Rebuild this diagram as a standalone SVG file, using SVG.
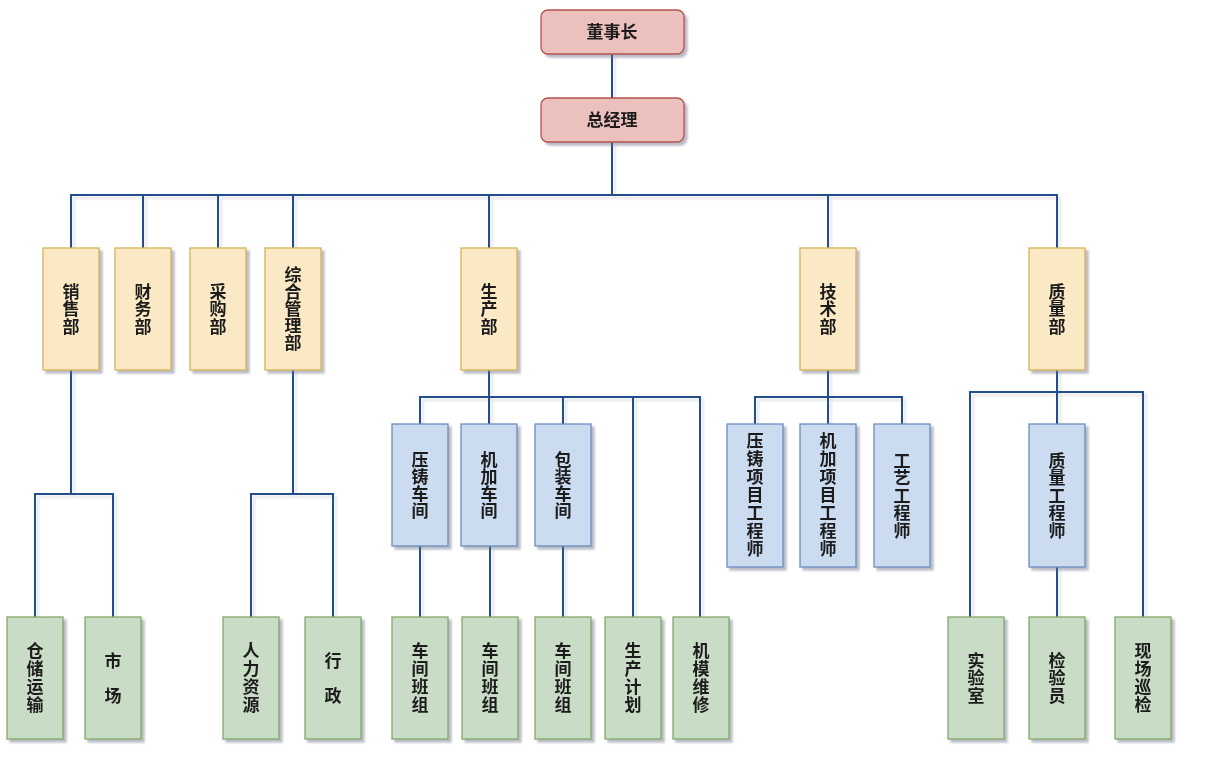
<svg xmlns="http://www.w3.org/2000/svg" width="1207" height="759" viewBox="0 0 1207 759">
<defs>
<filter id="sh" x="-20%" y="-20%" width="150%" height="150%">
<feDropShadow dx="3" dy="3" stdDeviation="1.2" flood-color="#606880" flood-opacity="0.45"/>
</filter>
<filter id="lsh" x="-20%" y="-20%" width="150%" height="150%">
<feDropShadow dx="3" dy="3" stdDeviation="1" flood-color="#c8c8d0" flood-opacity="0.5"/>
</filter>
<style>
.t{font-family:"Noto Sans CJK SC","Noto Sans",sans-serif;font-size:17px;font-weight:bold;fill:#1a1a1a;text-anchor:middle}
.v{writing-mode:vertical-rl;text-orientation:upright}
.s1{letter-spacing:0.5px}
.s2{letter-spacing:1px}
.red{fill:#ecc0bd;stroke:#b5524e;stroke-width:1.3}
.yel{fill:#fbe9c6;stroke:#d4b257;stroke-width:1.3}
.blu{fill:#cbdbf0;stroke:#6c8ebf;stroke-width:1.3}
.grn{fill:#c9dcc5;stroke:#82a866;stroke-width:1.3}
.c{fill:none;stroke:#20508c;stroke-width:2}
</style>
</defs>
<rect width="1207" height="759" fill="#ffffff"/>
<g id="connectors" filter="url(#lsh)">
<path class="c" d="M612 54V98M612 142V195M71 248V195H1057V248M143 195V248M218 195V248M293 195V248M489 195V248M828 195V248"/>
<path class="c" d="M71 370V494M35 617V494H113V617M293 370V494M251 617V494H333V617"/>
<path class="c" d="M489 370V424M420 424V397H700V617M563 397V424M633 397V617M420 546V617M490 546V617M563 546V617"/>
<path class="c" d="M828 370V424M755 424V397H902V424M1057 370V424M970 617V392H1143V617M1057 567V617"/>
</g>
<g id="n-dsz" filter="url(#sh)"><rect class="red" x="541" y="10" width="143" height="44" rx="7"/><text class="t" x="612" y="38">董事长</text></g>
<g id="n-zjl" filter="url(#sh)"><rect class="red" x="541" y="98" width="143" height="44" rx="7"/><text class="t" x="612" y="126">总经理</text></g>

<g id="n-xsb" filter="url(#sh)"><rect class="yel" x="43" y="248" width="56" height="122"/><text class="t v s1" x="71" y="309">销售部</text></g>
<g id="n-cwb" filter="url(#sh)"><rect class="yel" x="115" y="248" width="56" height="122"/><text class="t v s1" x="143" y="309">财务部</text></g>
<g id="n-cgb" filter="url(#sh)"><rect class="yel" x="190" y="248" width="56" height="122"/><text class="t v s1" x="218" y="309">采购部</text></g>
<g id="n-zhglb" filter="url(#sh)"><rect class="yel" x="265" y="248" width="56" height="122"/><text class="t v" x="293" y="309">综合管理部</text></g>
<g id="n-scb" filter="url(#sh)"><rect class="yel" x="461" y="248" width="56" height="122"/><text class="t v s1" x="489" y="309">生产部</text></g>
<g id="n-jsb" filter="url(#sh)"><rect class="yel" x="800" y="248" width="56" height="122"/><text class="t v s1" x="828" y="309">技术部</text></g>
<g id="n-zlb" filter="url(#sh)"><rect class="yel" x="1029" y="248" width="56" height="122"/><text class="t v s1" x="1057" y="309">质量部</text></g>

<g id="n-yzcj" filter="url(#sh)"><rect class="blu" x="392" y="424" width="56" height="122"/><text class="t v" x="420" y="485">压铸车间</text></g>
<g id="n-jjcj" filter="url(#sh)"><rect class="blu" x="461" y="424" width="56" height="122"/><text class="t v" x="489" y="485">机加车间</text></g>
<g id="n-bzcj" filter="url(#sh)"><rect class="blu" x="535" y="424" width="56" height="122"/><text class="t v" x="563" y="485">包装车间</text></g>

<g id="n-yzgcs" filter="url(#sh)"><rect class="blu" x="727" y="424" width="56" height="143"/><text class="t v s2" x="755" y="495.5">压铸项目工程师</text></g>
<g id="n-jjgcs" filter="url(#sh)"><rect class="blu" x="800" y="424" width="56" height="143"/><text class="t v s2" x="828" y="495.5">机加项目工程师</text></g>
<g id="n-gygcs" filter="url(#sh)"><rect class="blu" x="874" y="424" width="56" height="143"/><text class="t v s1" x="902" y="495.5">工艺工程师</text></g>
<g id="n-zlgcs" filter="url(#sh)"><rect class="blu" x="1029" y="424" width="56" height="143"/><text class="t v s1" x="1057" y="495.5">质量工程师</text></g>

<g id="n-ccys" filter="url(#sh)"><rect class="grn" x="7" y="617" width="56" height="122"/><text class="t v s2" x="35" y="678">仓储运输</text></g>
<g id="n-sc" filter="url(#sh)"><rect class="grn" x="85" y="617" width="56" height="122"/><text class="t" x="113" y="667">市</text><text class="t" x="113" y="702">场</text></g>
<g id="n-rlzy" filter="url(#sh)"><rect class="grn" x="223" y="617" width="56" height="122"/><text class="t v s2" x="251" y="678">人力资源</text></g>
<g id="n-xz" filter="url(#sh)"><rect class="grn" x="305" y="617" width="56" height="122"/><text class="t" x="333" y="667">行</text><text class="t" x="333" y="702">政</text></g>
<g id="n-cjbz1" filter="url(#sh)"><rect class="grn" x="392" y="617" width="56" height="122"/><text class="t v s2" x="420" y="678">车间班组</text></g>
<g id="n-cjbz2" filter="url(#sh)"><rect class="grn" x="462" y="617" width="56" height="122"/><text class="t v s2" x="490" y="678">车间班组</text></g>
<g id="n-cjbz3" filter="url(#sh)"><rect class="grn" x="535" y="617" width="56" height="122"/><text class="t v s2" x="563" y="678">车间班组</text></g>
<g id="n-scjh" filter="url(#sh)"><rect class="grn" x="605" y="617" width="56" height="122"/><text class="t v s2" x="633" y="678">生产计划</text></g>
<g id="n-jmwx" filter="url(#sh)"><rect class="grn" x="673" y="617" width="56" height="122"/><text class="t v s2" x="701" y="678">机模维修</text></g>
<g id="n-sys" filter="url(#sh)"><rect class="grn" x="948" y="617" width="56" height="122"/><text class="t v s1" x="976" y="678">实验室</text></g>
<g id="n-jyy" filter="url(#sh)"><rect class="grn" x="1029" y="617" width="56" height="122"/><text class="t v s1" x="1057" y="678">检验员</text></g>
<g id="n-xcxj" filter="url(#sh)"><rect class="grn" x="1115" y="617" width="56" height="122"/><text class="t v s2" x="1143" y="678">现场巡检</text></g>
</svg>
